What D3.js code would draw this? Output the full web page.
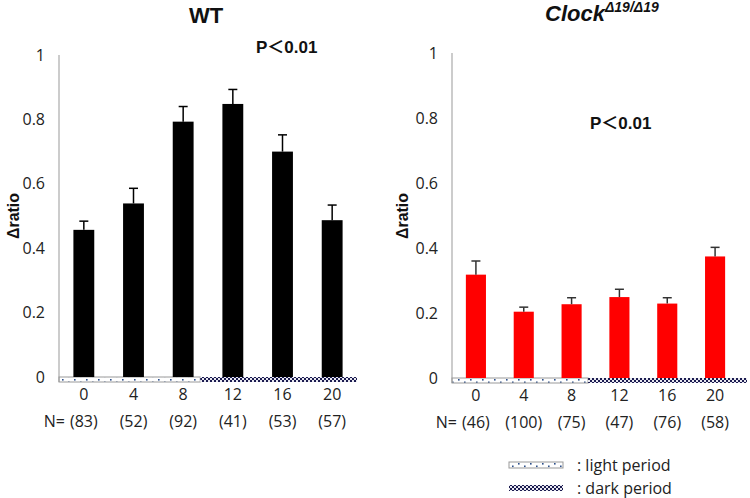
<!DOCTYPE html>
<html><head><meta charset="utf-8">
<script src="https://cdn.jsdelivr.net/npm/d3@7"></script>
<style>body{margin:0;background:#fff}svg{display:block}</style>
</head><body>
<script>
const hours = ["0","4","8","12","16","20"];
const wtValues = [0.457, 0.539, 0.793, 0.848, 0.700, 0.487];
const wtErrors = [0.027, 0.047, 0.047, 0.045, 0.052, 0.047];
const wtN = ["(83)","(52)","(92)","(41)","(53)","(57)"];
const clValues = [0.318, 0.204, 0.227, 0.249, 0.229, 0.374];
const clErrors = [0.042, 0.014, 0.020, 0.024, 0.018, 0.028];
const clN = ["(46)","(100)","(75)","(47)","(76)","(58)"];
const yTicks = [0, 0.2, 0.4, 0.6, 0.8, 1];
const yTickLabels = ["0","0.2","0.4","0.6","0.8","1"];

const W = 750, H = 498;
const svg = d3.select("body").append("svg").attr("width", W).attr("height", H);
const defs = svg.append("defs");

const pl = defs.append("pattern").attr("id","lightPat").attr("patternUnits","userSpaceOnUse")
  .attr("width",12).attr("height",6);
pl.append("rect").attr("width",12).attr("height",6).attr("fill","#fff");
pl.append("rect").attr("x",2).attr("y",1).attr("width",1.6).attr("height",1.6).attr("fill","#2c4f8c");
pl.append("rect").attr("x",8).attr("y",3.5).attr("width",1.6).attr("height",1.6).attr("fill","#2c4f8c");

const pd = defs.append("pattern").attr("id","darkPat").attr("patternUnits","userSpaceOnUse")
  .attr("width",4).attr("height",4);
pd.append("rect").attr("width",4).attr("height",4).attr("fill","#1c1c50");
pd.append("rect").attr("x",0).attr("y",0).attr("width",2).attr("height",2).attr("fill","#e8e8f0");
pd.append("rect").attr("x",2).attr("y",2).attr("width",2).attr("height",2).attr("fill","#e8e8f0");

const tickFont = "'Open Sans', sans-serif";
const fs = 16;

function panel(cfg) {
  const x = d3.scaleBand().domain(hours).range(cfg.xr).paddingInner(0.58).paddingOuter(0.29);
  const y = d3.scaleLinear().domain([0,1]).range(cfg.yr);
  const g = svg.append("g");
  const y0 = y(0);
  const split = cfg.xr[0] + (cfg.xr[1]-cfg.xr[0]) * 0.474;
  g.append("rect").attr("x", cfg.xr[0]).attr("y", y0).attr("width", split - cfg.xr[0]).attr("height", 5)
    .attr("fill","url(#lightPat)").attr("stroke","#999").attr("stroke-width",1);
  g.append("rect").attr("x", split).attr("y", y0).attr("width", cfg.stripEnd - split).attr("height", 5)
    .attr("fill","url(#darkPat)");
  g.append("line").attr("x1", cfg.xr[0]).attr("x2", cfg.xr[0]).attr("y1", y(1)).attr("y2", y0+5)
    .attr("stroke","#999").attr("stroke-width",1);
  const ya = d3.axisLeft(y).tickValues(yTicks).tickSize(0).tickPadding(14)
    .tickFormat((d,i)=>yTickLabels[i]);
  const yg = g.append("g").attr("transform",`translate(${cfg.xr[0]},0)`).call(ya);
  yg.select(".domain").remove();
  yg.selectAll("text").attr("font-family",tickFont).attr("font-size",fs).attr("fill","#222");
  g.selectAll(".bar").data(cfg.values).enter().append("rect")
    .attr("x",(d,i)=>x(hours[i])).attr("width",x.bandwidth())
    .attr("y",d=>y(d)).attr("height",d=>y0-y(d)).attr("fill",cfg.color);
  const eb = g.selectAll(".err").data(cfg.values).enter().append("g");
  eb.append("line").attr("x1",(d,i)=>x(hours[i])+x.bandwidth()/2).attr("x2",(d,i)=>x(hours[i])+x.bandwidth()/2)
    .attr("y1",d=>y(d)).attr("y2",(d,i)=>y(d+cfg.errors[i])).attr("stroke",cfg.errColor).attr("stroke-width",1.5);
  eb.append("line").attr("x1",(d,i)=>x(hours[i])+x.bandwidth()/2-4.5).attr("x2",(d,i)=>x(hours[i])+x.bandwidth()/2+4.5)
    .attr("y1",(d,i)=>y(d+cfg.errors[i])).attr("y2",(d,i)=>y(d+cfg.errors[i])).attr("stroke",cfg.errColor).attr("stroke-width",1.5);
  const xa = d3.axisBottom(x).tickSize(0).tickPadding(0);
  const xg = g.append("g").attr("transform",`translate(0,${y0+12})`).call(xa);
  xg.select(".domain").remove();
  xg.selectAll("text").attr("font-family",tickFont).attr("font-size",fs).attr("fill","#222");
  g.selectAll(".n").data(cfg.n).enter().append("text")
    .attr("x",(d,i)=>x(hours[i])+x.bandwidth()/2).attr("y",y0+50)
    .attr("text-anchor","middle").attr("font-family",tickFont).attr("font-size",fs).attr("fill","#222").text(d=>d);
  g.append("text").attr("x",x(hours[0])+x.bandwidth()/2-19).attr("y",y0+50).attr("text-anchor","end")
    .attr("font-family",tickFont).attr("font-size",fs).attr("fill","#222").text("N=");
  g.append("text").attr("transform",`translate(${cfg.ylabX},${cfg.ylabY}) rotate(-90)`)
    .attr("text-anchor","middle").attr("font-family","'Liberation Sans', Arial, sans-serif")
    .attr("font-weight","bold").attr("font-size",16).attr("fill","#111").text("Δratio");
  g.append("text").attr("x",cfg.px).attr("y",cfg.py)
    .attr("font-family","'Liberation Sans', 'Noto Sans CJK JP', sans-serif").attr("font-weight","bold")
    .attr("font-size",17).attr("fill","#111").text("P＜0.01");
  return {x,y};
}

panel({xr:[59,357], yr:[377,55], stripEnd:357, values:wtValues, errors:wtErrors, n:wtN,
  color:"#000", errColor:"#000", ylabX:19, ylabY:216, px:256, py:53});
panel({xr:[452,739], yr:[378,53], stripEnd:747, values:clValues, errors:clErrors, n:clN,
  color:"#ff0000", errColor:"#333", ylabX:408, ylabY:216, px:590, py:129});

svg.append("text").attr("x",206).attr("y",23).attr("text-anchor","middle")
  .attr("font-family","'Liberation Sans', Arial, sans-serif").attr("font-weight","bold").attr("font-size",22)
  .attr("fill","#111").text("WT");
const t2 = svg.append("text").attr("x",545).attr("y",21)
  .attr("font-family","'Liberation Sans', Arial, sans-serif").attr("font-weight","bold").attr("font-style","italic")
  .attr("font-size",22).attr("fill","#111");
t2.append("tspan").text("Clock");
t2.append("tspan").attr("font-size",14).attr("dy",-9).text("Δ19/Δ19");

const legend = [{fill:"url(#lightPat)", stroke:"#999", label:": light period"},
                {fill:"url(#darkPat)", stroke:"none", label:": dark period"}];
legend.forEach((l,i)=>{
  svg.append("rect").attr("x",509).attr("y",462+i*23).attr("width",54).attr("height",6)
    .attr("fill",l.fill).attr("stroke",l.stroke).attr("stroke-width",1);
  svg.append("text").attr("x",577).attr("y",471+i*23).attr("font-family",tickFont).attr("font-size",fs)
    .attr("fill","#222").text(l.label);
});
</script>
</body></html>
